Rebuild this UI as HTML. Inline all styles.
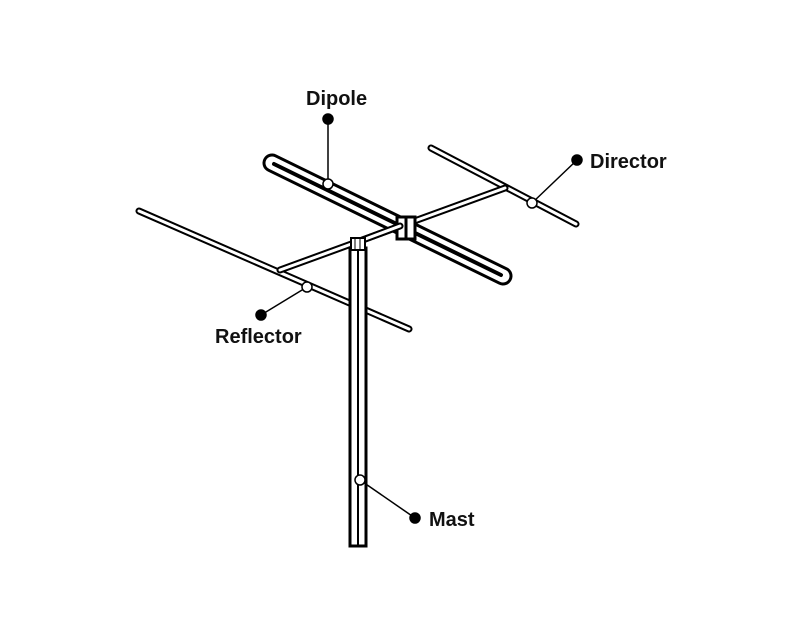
<!DOCTYPE html>
<html><head><style>
html,body{margin:0;padding:0;background:#fff;width:800px;height:640px;overflow:hidden}
svg{display:block}
text{font-family:"Liberation Sans",sans-serif;font-weight:bold;font-size:20px;fill:#111}
</style></head><body>
<svg width="800" height="640" viewBox="0 0 800 640">
<g stroke-linecap="round" fill="none">
<line x1="139" y1="211" x2="409" y2="329" stroke="#000" stroke-width="7"/>
<line x1="139" y1="211" x2="409" y2="329" stroke="#fff" stroke-width="3"/>
<line x1="431" y1="148" x2="576" y2="224" stroke="#000" stroke-width="7"/>
<line x1="431" y1="148" x2="576" y2="224" stroke="#fff" stroke-width="3"/>
<line x1="280" y1="270" x2="505" y2="188" stroke="#000" stroke-width="7"/>
<line x1="280" y1="270" x2="505" y2="188" stroke="#fff" stroke-width="3"/>
<line x1="272" y1="163" x2="503" y2="276" stroke="#000" stroke-width="19"/>
<line x1="272" y1="163" x2="503" y2="276" stroke="#fff" stroke-width="13"/>
<line x1="274" y1="164" x2="501" y2="275" stroke="#000" stroke-width="4"/>
<rect x="397" y="217" width="18" height="22" fill="#fff" stroke="#000" stroke-width="3"/>
<line x1="406" y1="217" x2="406" y2="239" stroke="#000" stroke-width="3"/>
<line x1="360" y1="241" x2="400" y2="226" stroke="#000" stroke-width="7"/>
<line x1="360" y1="241" x2="400" y2="226" stroke="#fff" stroke-width="3"/>
<rect x="350" y="248" width="16" height="298" fill="#fff" stroke="#000" stroke-width="3" stroke-linecap="butt"/>
<line x1="358" y1="250" x2="358" y2="546" stroke="#000" stroke-width="2"/>
<rect x="351" y="238" width="14" height="12" fill="#fff" stroke="#000" stroke-width="2"/>
<line x1="355" y1="238" x2="355" y2="250" stroke="#000" stroke-width="1"/>
<line x1="360" y1="238" x2="360" y2="250" stroke="#000" stroke-width="1"/>
</g>
<g stroke="#000" stroke-width="1.5" fill="#000">
<line x1="328" y1="119" x2="328" y2="184"/>
<line x1="577" y1="160" x2="532" y2="203"/>
<line x1="261" y1="315" x2="307" y2="287"/>
<line x1="415" y1="518" x2="360" y2="480"/>
<circle cx="328" cy="119" r="5"/>
<circle cx="577" cy="160" r="5"/>
<circle cx="261" cy="315" r="5"/>
<circle cx="415" cy="518" r="5"/>
</g>
<g fill="#fff" stroke="#000" stroke-width="1.5">
<circle cx="328" cy="184" r="5"/>
<circle cx="532" cy="203" r="5"/>
<circle cx="307" cy="287" r="5"/>
<circle cx="360" cy="480" r="5"/>
</g>
<text x="306" y="105">Dipole</text>
<text x="590" y="168">Director</text>
<text x="215" y="343">Reflector</text>
<text x="429" y="526">Mast</text>
</svg>
</body></html>
